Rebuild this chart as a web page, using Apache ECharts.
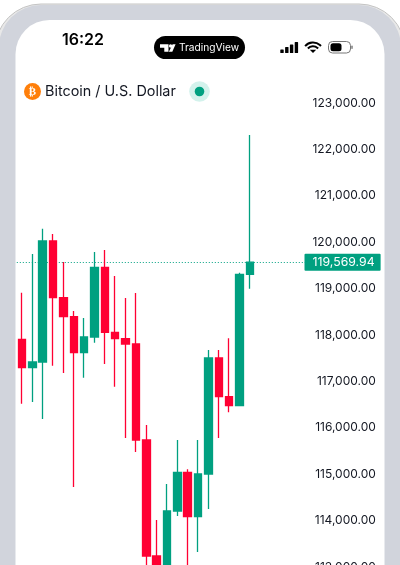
<!DOCTYPE html>
<html>
<head>
<meta charset="utf-8">
<style>html,body{margin:0;padding:0;background:#fff}#c{width:400px;height:565px}</style>
<script src="https://cdn.jsdelivr.net/npm/echarts@6/dist/echarts.min.js"></script>
</head>
<body>
<div id="c"></div>
<script>
const opens  = [117907,117295,117418,120026,118804,118394,117619,117957,119459,118058,117920,117806,115737,113237,112700,114207,115041,114084,115004,117504,116670,116476,119308];
const closes = [117295,117418,120026,118804,118394,117619,117957,119459,118058,117920,117806,115737,113237,112700,114207,115041,114084,115004,117504,116670,116476,119308,119569.94];
const lows   = [116519,116556,116190,117338,117181,114724,117080,117834,117375,116886,115780,115478,112800,112500,112500,114099,112900,113323,114250,115780,116334,116476,118998];
const highs  = [118912,119746,120291,120177,119573,118517,118366,119789,119832,119272,118797,118905,116060,114013,114789,115737,115106,115737,117677,117677,117929,119340,122311];
const emptySlots = 5;
const lastPrice = 119569.94;
const lastPriceLabel = '119,569.94';
const title = 'Bitcoin / U.S. Dollar';
const clock = '16:22';
const brand = 'TradingView';
const signalHeights = [3.5, 6, 8.5, 11];

const GREEN = '#00A080', RED = '#FF0033', FRAME = '#D1D4DC', INK = '#131722';
const font = 'Inter, "Noto Sans", sans-serif';
const fmt = v => v.toLocaleString('en-US', {minimumFractionDigits: 2, maximumFractionDigits: 2});

const gfx = [
  {type:'rect', z:0, shape:{x:-5,y:4,width:410,height:700,r:46}, style:{fill:'#E8E8E8',stroke:'#C4C4C4',lineWidth:1}},
  {type:'rect', z:1, shape:{x:-1,y:5,width:402,height:700,r:42}, style:{fill:FRAME}},
  {type:'rect', z:1, shape:{x:15.5,y:20,width:369,height:700,r:34}, style:{fill:'#fff'}},
  {type:'text', z:3, style:{x:62,y:40.5,text:clock,fill:'#000',font:'600 16px '+font,textVerticalAlign:'middle'}},
  {type:'rect', z:3, shape:{x:154,y:36,width:91,height:23,r:11.5}, style:{fill:'#000'}},
  {type:'polygon', z:4, shape:{points:[[160,44.3],[168.5,44.3],[168.5,51.7],[164.3,51.7],[164.3,47.8],[160,47.8]]}, style:{fill:'#fff'}},
  {type:'circle', z:4, shape:{cx:170.6,cy:46,r:1.7}, style:{fill:'#fff'}},
  {type:'polygon', z:4, shape:{points:[[172.6,44.3],[175.6,44.3],[172.3,51.7],[168.9,51.7]]}, style:{fill:'#fff'}},
  {type:'text', z:4, style:{x:179,y:48,text:brand,fill:'#fff',font:'400 10.2px '+font,textVerticalAlign:'middle'}},
  {type:'arc', z:3, shape:{cx:313,cy:53,r:10.5,startAngle:-Math.PI*0.77,endAngle:-Math.PI*0.23}, style:{stroke:'#000',lineWidth:2,fill:null}},
  {type:'arc', z:3, shape:{cx:313,cy:53,r:6.8,startAngle:-Math.PI*0.77,endAngle:-Math.PI*0.23}, style:{stroke:'#000',lineWidth:2,fill:null}},
  {type:'polygon', z:3, shape:{points:[[313,53],[309.8,49.7],[316.2,49.7]]}, style:{fill:'#000'}},
  {type:'rect', z:3, shape:{x:328.5,y:41.5,width:22,height:11.5,r:4}, style:{fill:'#fff',stroke:'#777',lineWidth:1}},
  {type:'rect', z:3, shape:{x:330.5,y:43.3,width:11,height:8,r:2.5}, style:{fill:'#000'}},
  {type:'rect', z:3, shape:{x:351.2,y:45.5,width:1.6,height:3.6,r:0.8}, style:{fill:'#888'}},
  {type:'circle', z:3, shape:{cx:32.5,cy:91.5,r:8.5}, style:{fill:'#FF7F0A'}},
  {type:'text', z:4, style:{x:32.5,y:92,text:'₿',fill:'#fff',font:'700 11px "DejaVu Sans"',align:'center',verticalAlign:'middle'}},
  {type:'text', z:3, style:{x:45,y:91.5,text:title,fill:INK,font:'400 14.4px '+font,textVerticalAlign:'middle'}},
  {type:'circle', z:3, shape:{cx:199.5,cy:91.5,r:10.3}, style:{fill:'#D3F2EC'}},
  {type:'circle', z:4, shape:{cx:199.5,cy:91.5,r:4.8}, style:{fill:GREEN}}
];
signalHeights.forEach((h, i) => gfx.push({type:'rect', z:3, shape:{x:280.3+i*4.8,y:53-h,width:3.4,height:h,r:0.6}, style:{fill:'#000'}}));

const cats = opens.map((_, i) => String(i + 1)).concat(Array(emptySlots).fill(''));
const candles = opens.map((o, i) => [o, closes[i], lows[i], highs[i]]);

const chart = echarts.init(document.getElementById('c'), null, {renderer:'canvas', width:400, height:565});
chart.setOption({
  animation:false,
  backgroundColor:'#fff',
  graphic:{elements:gfx},
  grid:{left:16.8,top:103,width:290,height:464,containLabel:false,outerBoundsMode:'none'},
  xAxis:{type:'category',data:cats,show:false,boundaryGap:true},
  yAxis:{type:'value',position:'right',min:113000,max:123000,interval:1000,z:10,
    axisLine:{show:false},axisTick:{show:false},splitLine:{show:false},
    axisLabel:{color:INK,fontFamily:font,fontSize:12,align:'right',margin:69,formatter:fmt}},
  series:[{
    type:'candlestick',z:5,barWidth:8,clip:true,
    data:candles,
    itemStyle:{color:GREEN,color0:RED,borderColor:GREEN,borderColor0:RED,borderWidth:1.3},
    markLine:{
      silent:true,symbol:'none',animation:false,
      lineStyle:{color:GREEN,type:[1,2],width:1},
      label:{position:'end',distance:-2.3,formatter:lastPriceLabel,color:'#fff',backgroundColor:GREEN,
        fontFamily:font,fontSize:12.3,padding:[2.5,6,2.5,8],borderRadius:1},
      data:[{yAxis:lastPrice}]
    }
  }]
});
</script>
</body>
</html>
